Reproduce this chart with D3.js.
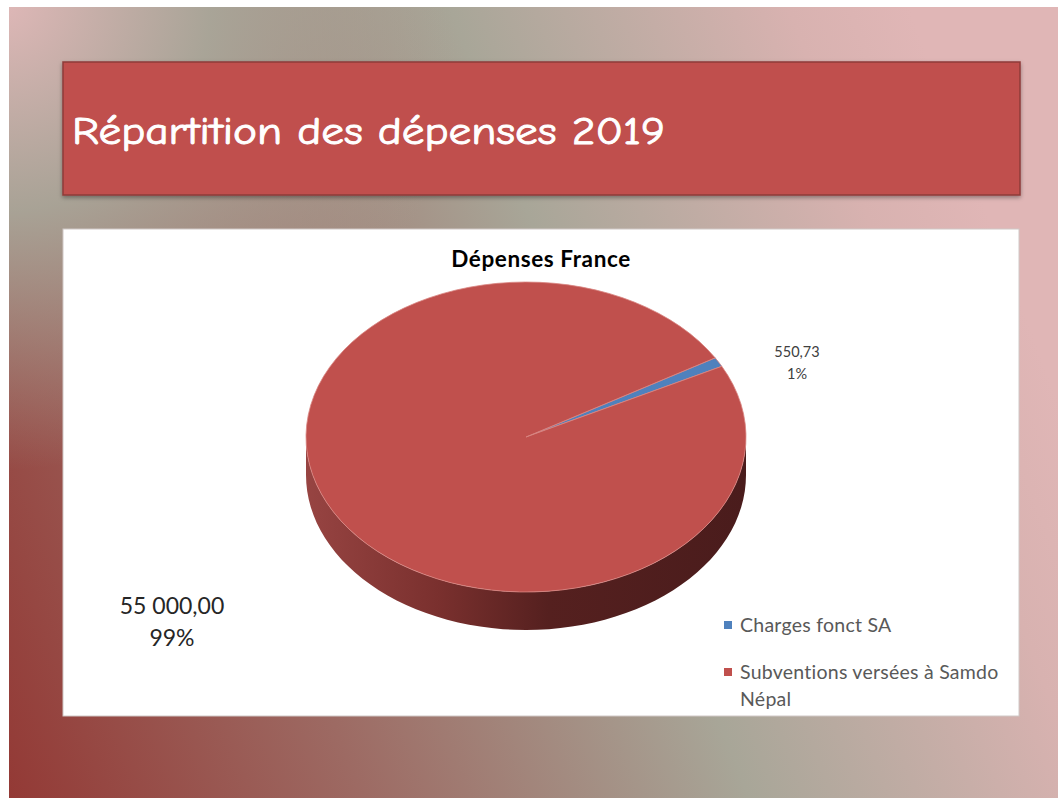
<!DOCTYPE html>
<html>
<head>
<meta charset="utf-8">
<title>Répartition des dépenses 2019</title>
<script src="https://cdn.jsdelivr.net/npm/d3@7/dist/d3.min.js"></script>
<style>
  body { margin: 0; background: #fff; }
  svg { display: block; }
</style>
</head>
<body>
<svg width="1058" height="798"></svg>
<script>
// data
const slideTitle = 'Répartition des dépenses 2019';
const chartTitle = 'Dépenses France';
const categories = ['Charges fonct SA', 'Subventions versées à Samdo Népal'];
const values = [550.73, 55000.00];
const valueLabels = ['550,73', '55 000,00'];
const percentLabels = ['1%', '99%'];
const colors = ['#4f81bd', '#c0504d'];

const svg = d3.select('svg');
const defs = svg.append('defs');

// slide background
const bg = defs.append('linearGradient').attr('id', 'bg')
  .attr('gradientUnits', 'userSpaceOnUse')
  .attr('x1', 0).attr('y1', 800).attr('x2', 1058).attr('y2', 400);
bg.append('stop').attr('offset', 0).attr('stop-color', '#933834');
bg.append('stop').attr('offset', 0.3).attr('stop-color', '#9d6a63');
bg.append('stop').attr('offset', 0.62).attr('stop-color', '#a8a698');
bg.append('stop').attr('offset', 0.9).attr('stop-color', '#d8b2b0');
bg.append('stop').attr('offset', 1).attr('stop-color', '#e0b6b6');

const corner = defs.append('radialGradient').attr('id', 'corner')
  .attr('gradientUnits', 'userSpaceOnUse')
  .attr('cx', 0).attr('cy', 0).attr('r', 470);
corner.append('stop').attr('offset', 0).attr('stop-color', '#e0b8b8').attr('stop-opacity', 1);
corner.append('stop').attr('offset', 0.45).attr('stop-color', '#a9a699').attr('stop-opacity', 0.95);
corner.append('stop').attr('offset', 1).attr('stop-color', '#a9a699').attr('stop-opacity', 0);

const shadow = defs.append('filter').attr('id', 'shadow')
  .attr('x', '-5%').attr('y', '-10%').attr('width', '110%').attr('height', '130%');
shadow.append('feDropShadow').attr('dx', 0).attr('dy', 2).attr('stdDeviation', 2)
  .attr('flood-color', '#000').attr('flood-opacity', 0.35);

svg.append('rect').attr('x', 9).attr('y', 7).attr('width', 1049).attr('height', 791).attr('fill', 'url(#bg)');
svg.append('rect').attr('x', 9).attr('y', 7).attr('width', 1049).attr('height', 791).attr('fill', 'url(#corner)');

// title bar
svg.append('rect')
  .attr('x', 63).attr('y', 62).attr('width', 957).attr('height', 133)
  .attr('fill', '#c0504d').attr('stroke', '#8e3a38').attr('stroke-width', 1.5)
  .attr('filter', 'url(#shadow)');
svg.append('text')
  .attr('x', 72).attr('y', 144)
  .attr('font-family', '"Comic Sans MS", "Comic Neue", "Noto Sans", sans-serif')
  .attr('font-size', 38)
  .attr('fill', '#fff').attr('stroke', '#fff').attr('stroke-width', 0.9)
  .attr('textLength', 593).attr('lengthAdjust', 'spacingAndGlyphs')
  .text(slideTitle);

// chart area
svg.append('rect')
  .attr('x', 63).attr('y', 229).attr('width', 956).attr('height', 487)
  .attr('fill', '#fff').attr('stroke', '#d0c8c6').attr('stroke-width', 1);

const font = 'Lato, "Open Sans", sans-serif';

svg.append('text')
  .attr('x', 541).attr('y', 267)
  .attr('text-anchor', 'middle')
  .attr('font-family', font).attr('font-weight', 'bold').attr('font-size', 22.5)
  .attr('letter-spacing', 0.6)
  .attr('fill', '#000')
  .text(chartTitle);

// 3D pie
const cx = 526, cy = 437, rx = 220, ry = 155, depth = 38;
const rot = 59.3 * Math.PI / 180;

const pie = d3.pie().sort(null).value(d => d)
  .startAngle(rot).endAngle(rot + 2 * Math.PI);
const arcs = pie(values);

// point on ellipse, angle clockwise from 12 o'clock
const px = a => cx + rx * Math.sin(a);
const py = a => cy - ry * Math.cos(a);

const side = defs.append('linearGradient').attr('id', 'side')
  .attr('gradientUnits', 'userSpaceOnUse')
  .attr('x1', cx - rx).attr('y1', 0).attr('x2', cx + rx).attr('y2', 0);
side.append('stop').attr('offset', 0).attr('stop-color', '#974442');
side.append('stop').attr('offset', 0.3).attr('stop-color', '#7a302e');
side.append('stop').attr('offset', 0.55).attr('stop-color', '#55201f');
side.append('stop').attr('offset', 1).attr('stop-color', '#4a1c1c');

const sideBlue = defs.append('linearGradient').attr('id', 'sideBlue')
  .attr('gradientUnits', 'userSpaceOnUse')
  .attr('x1', cx - rx).attr('y1', 0).attr('x2', cx + rx).attr('y2', 0);
sideBlue.append('stop').attr('offset', 0).attr('stop-color', '#3a5f8c');
sideBlue.append('stop').attr('offset', 1).attr('stop-color', '#1f3450');

// front wall: only the part between 3 o'clock and 9 o'clock is visible
const sideG = svg.append('g');
arcs.forEach((d, i) => {
  for (let k = 0; k < 2; k++) {
    const lo = Math.PI / 2 + k * 2 * Math.PI, hi = 3 * Math.PI / 2 + k * 2 * Math.PI;
    const a0 = Math.max(d.startAngle, lo), a1 = Math.min(d.endAngle, hi);
    if (a1 <= a0) continue;
    const n = 60, pts = [];
    for (let j = 0; j <= n; j++) {
      const a = a0 + (a1 - a0) * j / n;
      pts.push([px(a), py(a)]);
    }
    for (let j = n; j >= 0; j--) {
      const a = a0 + (a1 - a0) * j / n;
      pts.push([px(a), py(a) + depth]);
    }
    sideG.append('path')
      .attr('d', d3.line()(pts) + 'Z')
      .attr('fill', i === 0 ? 'url(#sideBlue)' : 'url(#side)');
  }
});

// top face
const arc = d3.arc().innerRadius(0).outerRadius(rx);
svg.append('g')
  .attr('transform', `translate(${cx},${cy}) scale(1,${ry / rx})`)
  .selectAll('path')
  .data(arcs)
  .join('path')
  .attr('d', arc)
  .attr('fill', (d, i) => colors[i])
  .attr('stroke', '#d98683').attr('stroke-width', 0.8)
  .attr('vector-effect', 'non-scaling-stroke');

// data labels
const labelPos = [
  { x: 797, y: 357, size: 14.5, gap: 22, color: '#404040' },
  { x: 172, y: 614, size: 23, gap: 32, color: '#262626' }
];
labelPos.forEach((p, i) => {
  const t = svg.append('text')
    .attr('text-anchor', 'middle')
    .attr('font-family', font).attr('font-size', p.size)
    .attr('fill', p.color);
  t.append('tspan').attr('x', p.x).attr('y', p.y).text(valueLabels[i]);
  t.append('tspan').attr('x', p.x).attr('y', p.y + p.gap).text(percentLabels[i]);
});

// legend
const legend = svg.append('g').attr('transform', 'translate(724,621)');
const legendLines = [['Charges fonct SA'], ['Subventions versées à Samdo', 'Népal']];
categories.forEach((c, i) => {
  const g = legend.append('g').attr('transform', `translate(0,${i * 47})`);
  g.append('rect').attr('width', 8).attr('height', 8).attr('fill', colors[i]);
  const t = g.append('text')
    .attr('font-family', font).attr('font-size', 19.5)
    .attr('letter-spacing', 0.25)
    .attr('fill', '#595959');
  legendLines[i].forEach((line, j) => {
    t.append('tspan').attr('x', 16).attr('y', 11 + j * 27).text(line);
  });
});
</script>
</body>
</html>
